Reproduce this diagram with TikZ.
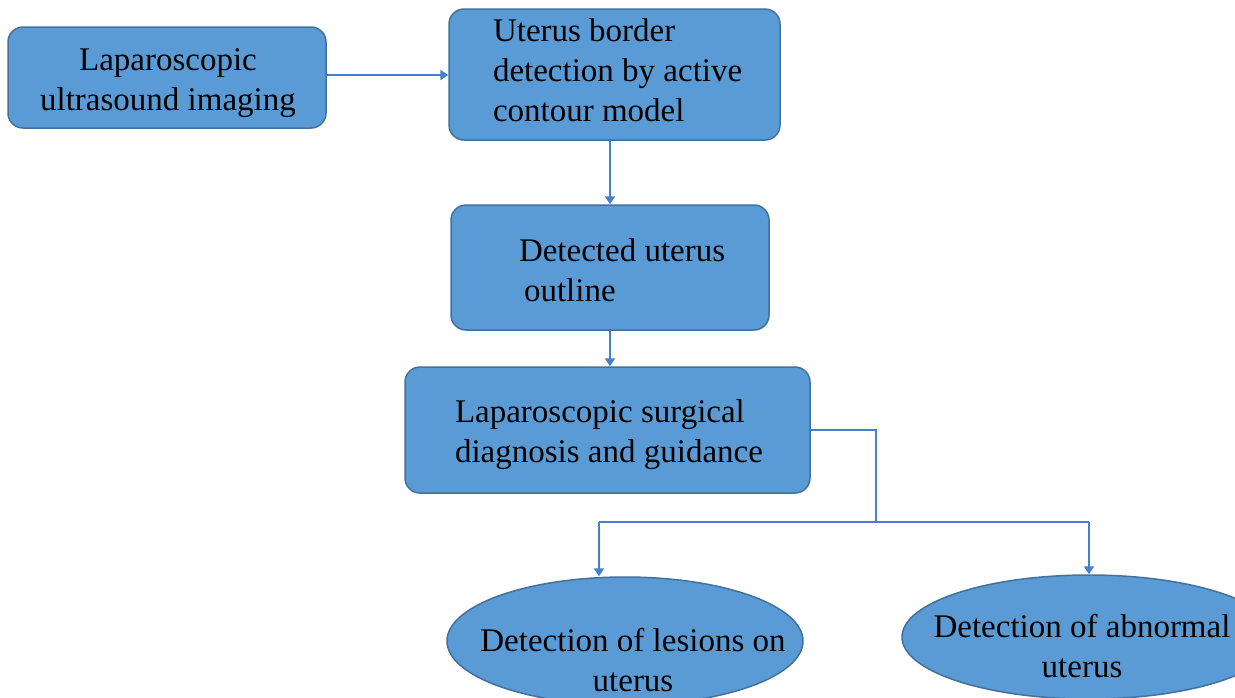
\documentclass[tikz,border=0pt]{standalone}
\usepackage{fontspec}
\setmainfont{Liberation Serif}
\usetikzlibrary{arrows.meta,shapes.geometric}
\definecolor{boxfill}{RGB}{91,155,213}
\definecolor{boxline}{RGB}{65,113,156}
\definecolor{conn}{RGB}{68,128,205}
\tikzset{
  stepbox/.style={draw=boxline, line width=1.5pt, fill=boxfill, rounded corners=15pt, inner sep=0pt},
  ovalbox/.style={ellipse, draw=boxline, line width=1.5pt, fill=boxfill, inner sep=0pt},
  lbl/.style={inner sep=0pt, outer sep=0pt, text=black},
  conline/.style={draw=conn, line width=2.2pt},
  arr/.style={conline, -{Triangle[width=10pt,length=8pt]}},
}
\begin{document}
\begin{tikzpicture}[x=1pt,y=-1pt]
\useasboundingbox (0,0) rectangle (1235,697);
\fontsize{33}{40}\selectfont
% boxes
\node[stepbox, minimum width=318pt, minimum height=101pt] (b1) at (167,77.5) {};
\node[stepbox, minimum width=331pt, minimum height=131pt] (b2) at (614.5,74.5) {};
\node[stepbox, minimum width=318pt, minimum height=125pt] (b3) at (610,267.5) {};
\node[stepbox, minimum width=405pt, minimum height=126pt] (b4) at (607.5,430) {};
\node[ovalbox, minimum width=356pt, minimum height=128pt] (e1) at (625,641) {};
\node[ovalbox, minimum width=374pt, minimum height=124pt] (e2) at (1089,637) {};
% texts (base anchor = baseline of last line)
\node[lbl, anchor=base, align=center] (t1) at (168,110.5) {\fontsize{33}{36}\selectfont Laparoscopic\\ultrasound imaging};
\node[lbl, anchor=base west, align=left] (t2) at (493,121.7) {\fontsize{33}{40}\selectfont Uterus border\\detection by active\\contour model};
\node[lbl, anchor=base west, align=left] (t3) at (519,301) {\fontsize{33}{40}\selectfont Detected uterus\\\hspace*{5pt}outline};
\node[lbl, anchor=base west, align=left] (t4) at (455,462.5) {\fontsize{33}{39}\selectfont Laparoscopic surgical\\diagnosis and guidance};
\node[lbl, anchor=base, align=center] (t5) at (633,691.7) {\fontsize{33}{40}\selectfont Detection of lesions on\\uterus};
\node[lbl, anchor=base, align=center] (t6) at (1082,677.5) {\fontsize{33}{41}\selectfont Detection of abnormal\\uterus};
% connectors
\coordinate (j) at (876,522);
\coordinate (jl) at (599,522);
\coordinate (jr) at (1089,522);
\draw[arr] (b1.east |- 0,75) -- (b2.west |- 0,75);
\draw[arr] (b3.north |- b2.south) -- (b3.north);
\draw[arr] (b3.south) -- (b3.south |- b4.north);
\draw[conline] (b4.east) -| (j);
\draw[conline] (jl) -- (jr);
\draw[arr] (jl) -- (jl |- e1.north);
\draw[arr] (jr) -- (e2.north);
\end{tikzpicture}
\end{document}
